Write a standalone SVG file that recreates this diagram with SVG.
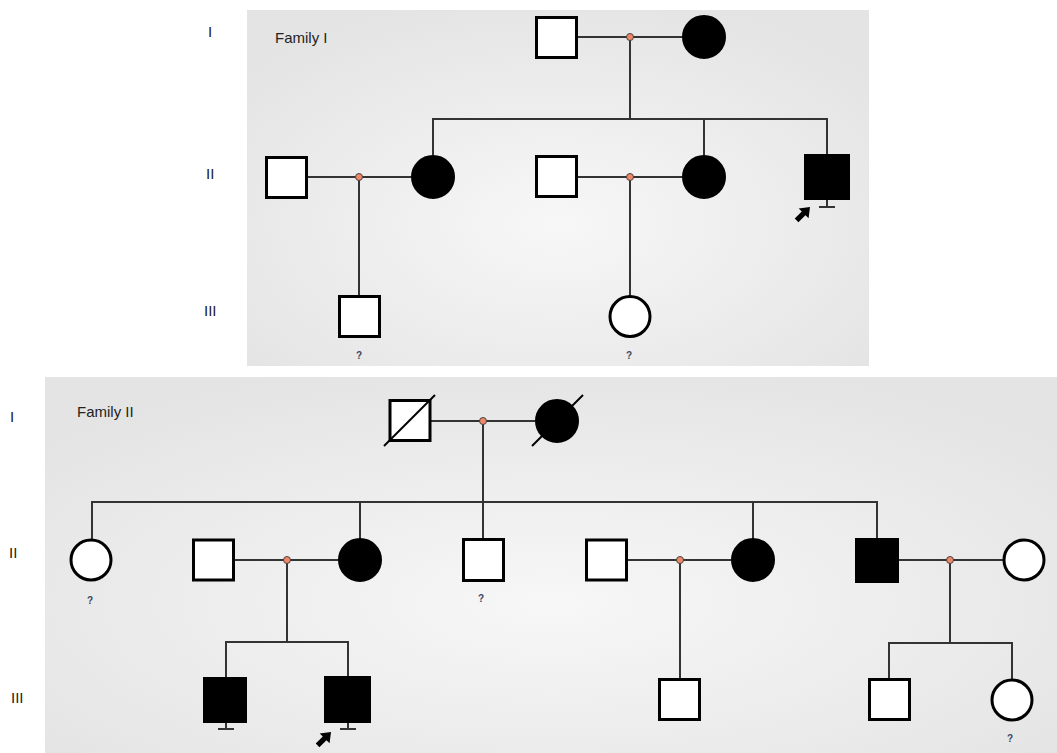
<svg xmlns="http://www.w3.org/2000/svg" width="1057" height="753" viewBox="0 0 1057 753">
  <defs>
    <radialGradient id="panelBg" cx="50%" cy="60%" r="65%">
      <stop offset="0" stop-color="#f7f7f7"/>
      <stop offset="1" stop-color="#e4e4e4"/>
    </radialGradient>
    <!-- proband arrow, tip at origin pointing up -->
    <polygon id="proband" points="0,0 7,9 2.6,9 2.6,19 -2.6,19 -2.6,9 -7,9" fill="#000"/>
  </defs>
  <style>
    .panel { fill: url(#panelBg); }
    .line { stroke: #333; stroke-width: 2; fill: none; }
    .open { fill: #fff; stroke: #000; stroke-width: 3; }
    .aff { fill: #000; stroke: #000; stroke-width: 2; }
    .dot { fill: #f08868; stroke: #444; stroke-width: 1; }
    .dead { stroke: #000; stroke-width: 2; }
    .lbl { font-family: "Liberation Sans", Arial, sans-serif; font-size: 15px; fill: #222; }
    .q { font-family: "Liberation Sans", Arial, sans-serif; font-size: 10px; font-weight: bold; fill: #3a4660; text-anchor: middle; }
  </style>

  <rect width="1057" height="753" fill="#fff"/>

  <!-- panels -->
  <rect class="panel" x="247" y="10" width="622" height="356"/>
  <rect class="panel" x="45" y="377" width="1012" height="376"/>

  <!-- generation labels and titles -->
  <g id="labels">
    <text class="lbl" x="208" y="37">I</text>
    <text class="lbl" x="206" y="179">II</text>
    <text class="lbl" x="204" y="316">III</text>
    <text class="lbl" x="275" y="43">Family I</text>
    <text class="lbl" x="10" y="422">I</text>
    <text class="lbl" x="9" y="558">II</text>
    <text class="lbl" x="11" y="703">III</text>
    <text class="lbl" x="77" y="417">Family II</text>
  </g>

  <!-- connectors -->
  <g id="connectors">
    <!-- Family I -->
    <line class="line" x1="578" y1="37" x2="682" y2="37"/>
    <line class="line" x1="630" y1="37" x2="630" y2="119"/>
    <line class="line" x1="432" y1="119" x2="828" y2="119"/>
    <line class="line" x1="433" y1="119" x2="433" y2="155"/>
    <line class="line" x1="704" y1="119" x2="704" y2="155"/>
    <line class="line" x1="827" y1="119" x2="827" y2="154"/>
    <line class="line" x1="307" y1="177" x2="411" y2="177"/>
    <line class="line" x1="359" y1="177" x2="359" y2="296"/>
    <line class="line" x1="578" y1="177" x2="682" y2="177"/>
    <line class="line" x1="630" y1="177" x2="630" y2="296"/>
    <line class="line" x1="827" y1="200" x2="827" y2="207"/>
    <line class="line" x1="819" y1="207" x2="835" y2="207"/>
    <!-- Family II -->
    <line class="line" x1="431" y1="421" x2="535" y2="421"/>
    <line class="line" x1="483" y1="421" x2="483" y2="502"/>
    <line class="line" x1="91" y1="502" x2="878" y2="502"/>
    <line class="line" x1="92" y1="502" x2="92" y2="539"/>
    <line class="line" x1="360" y1="502" x2="360" y2="539"/>
    <line class="line" x1="483" y1="502" x2="483" y2="539"/>
    <line class="line" x1="753" y1="502" x2="753" y2="539"/>
    <line class="line" x1="877" y1="502" x2="877" y2="538"/>
    <line class="line" x1="234" y1="560" x2="338" y2="560"/>
    <line class="line" x1="287" y1="560" x2="287" y2="642"/>
    <line class="line" x1="225" y1="642" x2="349" y2="642"/>
    <line class="line" x1="226" y1="642" x2="226" y2="677"/>
    <line class="line" x1="348" y1="642" x2="348" y2="676"/>
    <line class="line" x1="627" y1="560" x2="731" y2="560"/>
    <line class="line" x1="680" y1="560" x2="680" y2="678"/>
    <line class="line" x1="899" y1="560" x2="1003" y2="560"/>
    <line class="line" x1="950" y1="560" x2="950" y2="643"/>
    <line class="line" x1="888" y1="643" x2="1013" y2="643"/>
    <line class="line" x1="889" y1="643" x2="889" y2="678"/>
    <line class="line" x1="1012" y1="643" x2="1012" y2="679"/>
    <line class="line" x1="226" y1="722" x2="226" y2="729"/>
    <line class="line" x1="218" y1="729" x2="234" y2="729"/>
    <line class="line" x1="348" y1="722" x2="348" y2="729"/>
    <line class="line" x1="340" y1="729" x2="356" y2="729"/>
    <!-- marriage nodes -->
    <circle class="dot" cx="630" cy="37" r="3.5"/>
    <circle class="dot" cx="359" cy="177" r="3.5"/>
    <circle class="dot" cx="630" cy="177" r="3.5"/>
    <circle class="dot" cx="483" cy="421" r="3.5"/>
    <circle class="dot" cx="287" cy="560" r="3.5"/>
    <circle class="dot" cx="680" cy="560" r="3.5"/>
    <circle class="dot" cx="950" cy="560" r="3.5"/>
  </g>

  <!-- Family I -->
  <g id="f1-I-1"><rect class="open" x="536.5" y="17.5" width="40" height="40"/></g>
  <g id="f1-I-2"><circle class="aff" cx="704" cy="37" r="21"/></g>
  <g id="f1-II-1"><rect class="open" x="266.5" y="157.5" width="40" height="40"/></g>
  <g id="f1-II-2"><circle class="aff" cx="433" cy="177" r="21"/></g>
  <g id="f1-II-3"><rect class="open" x="536.5" y="156.5" width="40" height="40"/></g>
  <g id="f1-II-4"><circle class="aff" cx="704" cy="177" r="21"/></g>
  <g id="f1-II-5">
    <rect class="aff" x="805" y="155" width="44" height="44"/>
    <use href="#proband" transform="translate(810 207) rotate(45)"/>
  </g>
  <g id="f1-III-1">
    <rect class="open" x="339.5" y="296.5" width="40" height="40"/>
    <text class="q" x="359" y="359">?</text>
  </g>
  <g id="f1-III-2">
    <circle class="open" cx="630" cy="316.5" r="20"/>
    <text class="q" x="629" y="359">?</text>
  </g>

  <!-- Family II -->
  <g id="f2-I-1">
    <rect class="open" x="390" y="400.5" width="40" height="40"/>
    <line class="dead" x1="384" y1="446" x2="435" y2="395"/>
  </g>
  <g id="f2-I-2">
    <circle class="aff" cx="557" cy="421" r="21"/>
    <line class="dead" x1="532" y1="446" x2="583" y2="395"/>
  </g>
  <g id="f2-II-1">
    <circle class="open" cx="91" cy="560" r="20"/>
    <text class="q" x="90" y="604">?</text>
  </g>
  <g id="f2-II-2"><rect class="open" x="193.5" y="540" width="40" height="40"/></g>
  <g id="f2-II-3"><circle class="aff" cx="360" cy="560" r="21"/></g>
  <g id="f2-II-4">
    <rect class="open" x="463.5" y="539.5" width="40" height="41"/>
    <text class="q" x="481" y="602">?</text>
  </g>
  <g id="f2-II-5"><rect class="open" x="586.5" y="540" width="40" height="40"/></g>
  <g id="f2-II-6"><circle class="aff" cx="753" cy="560" r="21"/></g>
  <g id="f2-II-7"><rect class="aff" x="856" y="539" width="42" height="43"/></g>
  <g id="f2-II-8"><circle class="open" cx="1024" cy="560" r="20"/></g>
  <g id="f2-III-1"><rect class="aff" x="204" y="678" width="42" height="44"/></g>
  <g id="f2-III-2">
    <rect class="aff" x="325" y="677" width="45" height="45"/>
    <use href="#proband" transform="translate(331 732) rotate(45)"/>
  </g>
  <g id="f2-III-3"><rect class="open" x="659.5" y="679.5" width="40" height="40"/></g>
  <g id="f2-III-4"><rect class="open" x="869.5" y="679.5" width="40" height="40"/></g>
  <g id="f2-III-5">
    <circle class="open" cx="1012" cy="700" r="20"/>
    <text class="q" x="1010" y="742">?</text>
  </g>
</svg>
